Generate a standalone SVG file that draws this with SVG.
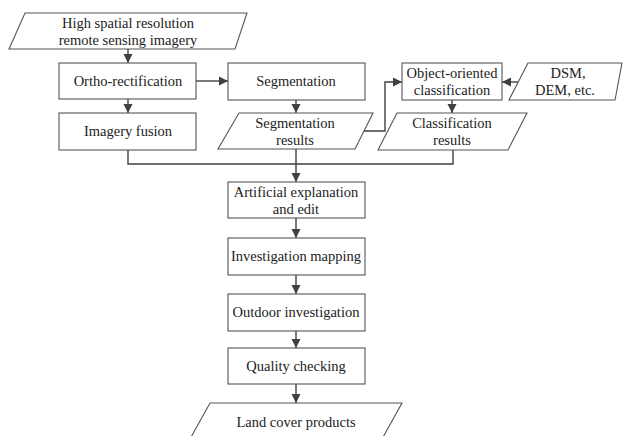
<svg xmlns="http://www.w3.org/2000/svg" width="623" height="436" viewBox="0 0 623 436">
<style>
.n{fill:#fff;stroke:#555;stroke-width:1.1}
.t{font-family:"Liberation Serif","Times New Roman",serif;font-size:14.5px;fill:#222;text-anchor:middle}
.c{fill:none;stroke:#404040;stroke-width:1.4}
</style>
<defs>
<marker id="ah" markerUnits="userSpaceOnUse" markerWidth="10" markerHeight="10" refX="9" refY="5" orient="auto">
<path d="M0,0.5 L9,5 L0,9.5 z" fill="#404040"/>
</marker>
</defs>
<rect width="623" height="436" fill="#fff"/>
<g id="connectors">
<path class="c" d="M128,49 V63" marker-end="url(#ah)"/>
<path class="c" d="M196,81 H228" marker-end="url(#ah)"/>
<path class="c" d="M128,99 V113" marker-end="url(#ah)"/>
<path class="c" d="M296,100 V113" marker-end="url(#ah)"/>
<path class="c" d="M364,131 H385 V82 H402" marker-end="url(#ah)"/>
<path class="c" d="M518,82 H502" marker-end="url(#ah)"/>
<path class="c" d="M452,100 V113" marker-end="url(#ah)"/>
<path class="c" d="M128,150 V164 H453 V150"/>
<path class="c" d="M296,149 V182" marker-end="url(#ah)"/>
<path class="c" d="M296,218 V238" marker-end="url(#ah)"/>
<path class="c" d="M296,275 V294" marker-end="url(#ah)"/>
<path class="c" d="M296,331 V348" marker-end="url(#ah)"/>
<path class="c" d="M296,384 V403" marker-end="url(#ah)"/>
</g>
<g id="input">
<polygon class="n" points="25,13 247,13 235,49 9,49"/>
<text class="t" x="128" y="28">High spatial resolution</text>
<text class="t" x="128" y="45">remote sensing imagery</text>
</g>
<g id="ortho">
<rect class="n" x="59" y="63" width="137" height="36"/>
<text class="t" x="128" y="86">Ortho-rectification</text>
</g>
<g id="fusion">
<rect class="n" x="59" y="113" width="137" height="37"/>
<text class="t" x="128" y="136">Imagery fusion</text>
</g>
<g id="segmentation">
<rect class="n" x="228" y="63" width="137" height="37"/>
<text class="t" x="296" y="86">Segmentation</text>
</g>
<g id="segresults">
<polygon class="n" points="239,113 373,113 355,149 218,149"/>
<text class="t" x="295" y="128">Segmentation</text>
<text class="t" x="295" y="145">results</text>
</g>
<g id="oo">
<rect class="n" x="402" y="63" width="100" height="37"/>
<text class="t" x="452" y="78">Object-oriented</text>
<text class="t" x="452" y="95">classification</text>
</g>
<g id="dsm">
<polygon class="n" points="528,63 622,63 615,100 509,100"/>
<text class="t" x="568" y="78">DSM,</text>
<text class="t" x="565" y="95">DEM, etc.</text>
</g>
<g id="classresults">
<polygon class="n" points="397,113 527,113 508,150 378,150"/>
<text class="t" x="452" y="128">Classification</text>
<text class="t" x="452" y="145">results</text>
</g>
<g id="artificial">
<rect class="n" x="228" y="182" width="137" height="36"/>
<text class="t" x="296" y="197">Artificial explanation</text>
<text class="t" x="296" y="214">and edit</text>
</g>
<g id="mapping">
<rect class="n" x="228" y="238" width="137" height="37"/>
<text class="t" x="296" y="261">Investigation mapping</text>
</g>
<g id="outdoor">
<rect class="n" x="228" y="294" width="137" height="37"/>
<text class="t" x="296" y="317">Outdoor investigation</text>
</g>
<g id="quality">
<rect class="n" x="228" y="348" width="137" height="36"/>
<text class="t" x="296" y="371">Quality checking</text>
</g>
<g id="products">
<polygon class="n" points="210,403 402,403 382,439 190,439"/>
<text class="t" x="296" y="427">Land cover products</text>
</g>
</svg>
